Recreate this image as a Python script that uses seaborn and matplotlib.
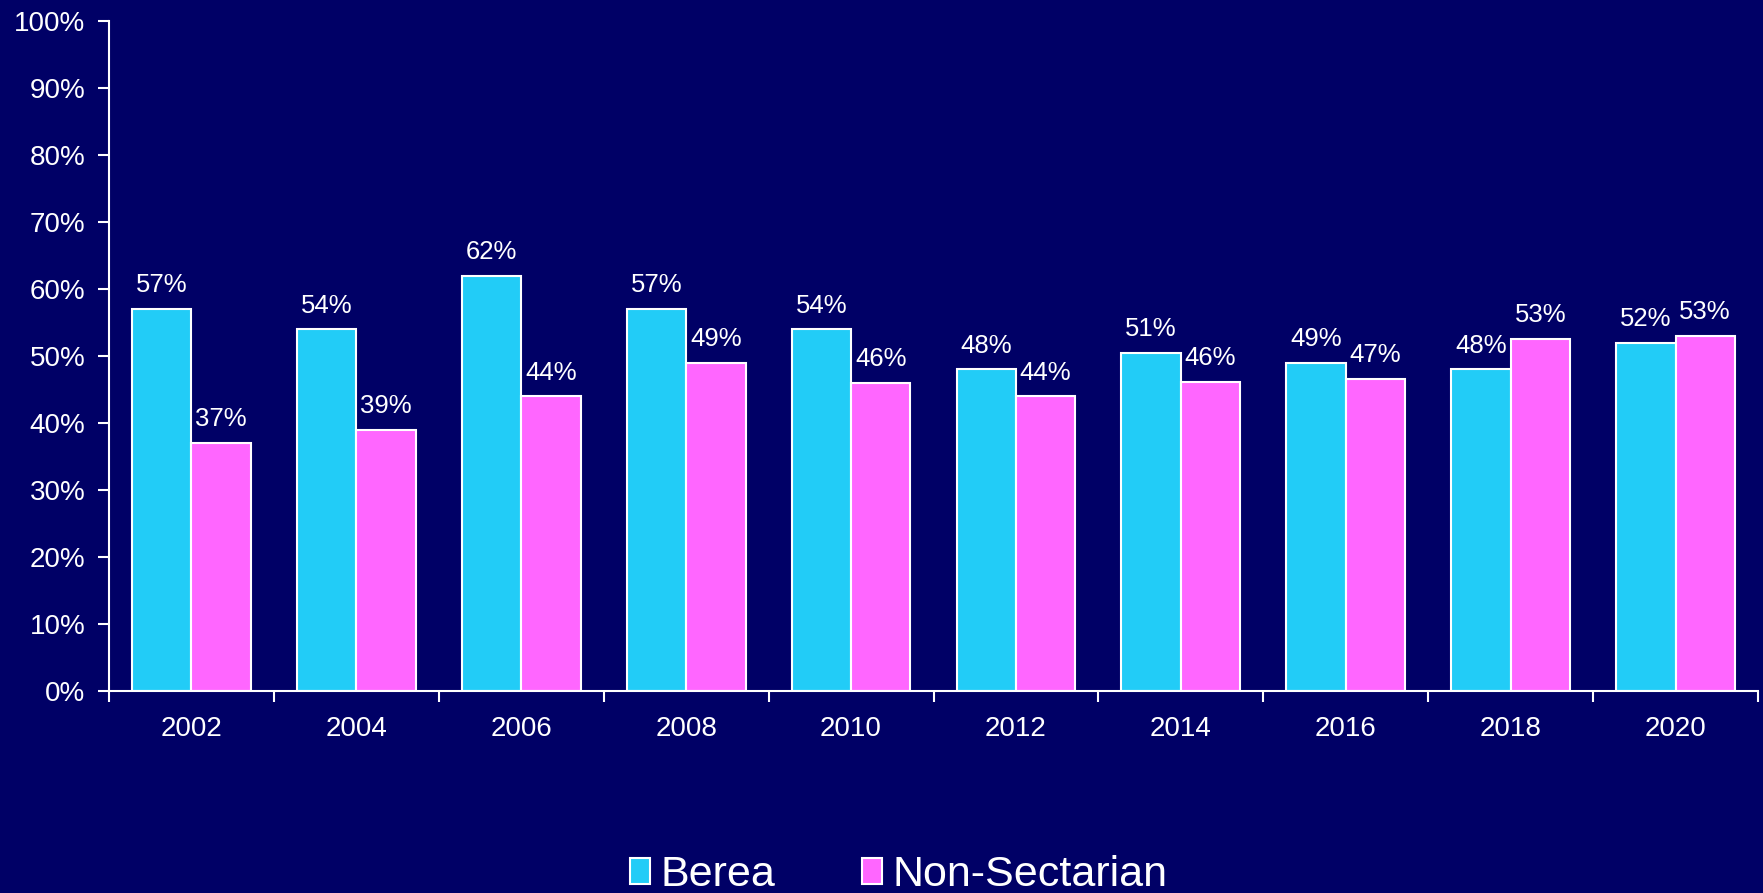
import seaborn as sns
import matplotlib.pyplot as plt
import pandas as pd
from matplotlib.patches import Patch

# values (percent)
years = ["2002", "2004", "2006", "2008", "2010", "2012", "2014", "2016", "2018", "2020"]
berea = [57, 54, 62, 57, 54, 48, 50.5, 49, 48, 52]
non_sectarian = [37, 39, 44, 49, 46, 44, 46.1, 46.6, 52.6, 53]
series = ["Berea", "Non-Sectarian"]
y_ticks = [0, 10, 20, 30, 40, 50, 60, 70, 80, 90, 100]

bg = "#000066"
colors = {"Berea": "#22CCF7", "Non-Sectarian": "#FF66FF"}

df = pd.DataFrame({
    "year": years * 2,
    "value": berea + non_sectarian,
    "group": ["Berea"] * len(years) + ["Non-Sectarian"] * len(years),
})

sns.set_style("white")
plt.rcParams["font.family"] = ["Liberation Sans", "DejaVu Sans"]

fig = plt.figure(figsize=(17.63, 8.93), dpi=100, facecolor=bg)
ax = fig.add_axes([109 / 1763, 1 - 691 / 893, (1758 - 109) / 1763, (691 - 21) / 893])
ax.set_facecolor(bg)

sns.barplot(data=df, x="year", y="value", hue="group", hue_order=series,
            palette=colors, width=0.72, gap=0, edgecolor="white", linewidth=1.5,
            saturation=1, legend=False, ax=ax)

# value labels above each bar (rounded half up)
for container in ax.containers:
    for bar in container:
        h = bar.get_height()
        ax.annotate(f"{int(h + 0.5)}%", (bar.get_x() + bar.get_width() / 2, h),
                    xytext=(0, 12), textcoords="offset points",
                    ha="center", va="baseline", color="white", fontsize=18.5)

ax.set_ylim(0, 100)
ax.set_xlim(-0.5, len(years) - 0.5)
ax.set_yticks(y_ticks)
ax.set_yticklabels([f"{t}%" for t in y_ticks])
ax.set_xlabel("")
ax.set_ylabel("")

# ticks between categories on x, labels centred
ax.set_xticks([i - 0.5 for i in range(len(years) + 1)], minor=True)
ax.tick_params(axis="x", which="major", bottom=True, length=0, pad=18,
               labelsize=20, colors="white")
ax.tick_params(axis="x", which="minor", bottom=True, length=8, width=1.5,
               color="white", direction="out")
ax.tick_params(axis="y", left=True, length=8, width=1.5, color="white", direction="out",
               pad=9, labelsize=20, labelcolor="white")

for side in ["top", "right"]:
    ax.spines[side].set_visible(False)
for side in ["left", "bottom"]:
    ax.spines[side].set_color("white")
    ax.spines[side].set_linewidth(1.5)

handles = [Patch(facecolor=colors[s], edgecolor="white", linewidth=1.5, label=s) for s in series]
leg = fig.legend(handles=handles, loc="lower left", bbox_to_anchor=(613 / 1763, -0.022),
                 ncol=2, frameon=False, fontsize=31, handlelength=0.46, handleheight=0.56,
                 handletextpad=0.25, columnspacing=2.0, borderaxespad=0)
for t in leg.get_texts():
    t.set_color("white")

fig.savefig("out.png", dpi=100, facecolor=bg)
